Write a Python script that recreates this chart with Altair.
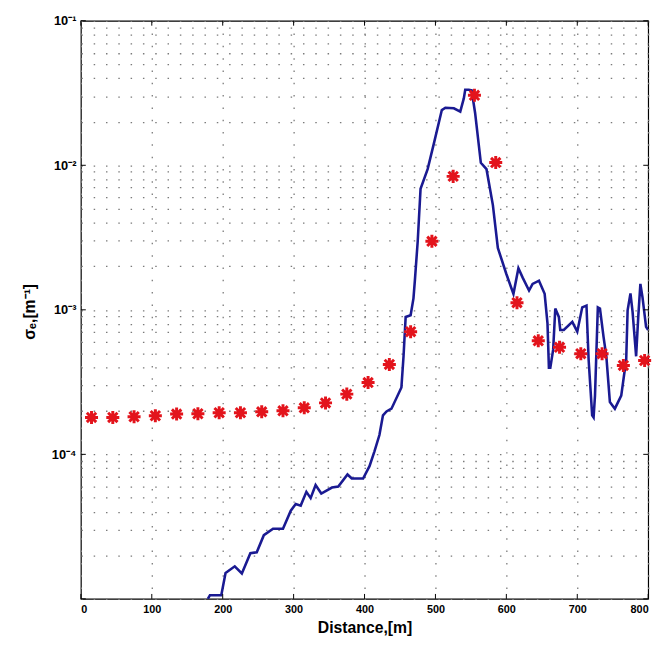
import altair as alt
import pandas as pd

# ---- data ----
line_x = [179, 182, 198, 204, 217, 227, 239, 248, 258, 271, 285, 296, 303, 310, 318, 324,
          331, 339, 354, 363, 376, 382, 398, 407, 414, 421, 426, 431, 438, 452, 455, 458,
          465, 469, 471, 475, 479, 489, 498, 509, 514, 526, 535, 540, 542, 547, 551, 556,
          564, 572, 581, 588, 600, 610, 617, 623, 632, 637, 646, 654, 658, 660, 662, 666,
          669, 674, 676, 681, 693, 700, 707, 713, 716, 721, 723, 725, 729, 732, 737, 741,
          746, 753, 762, 769, 771, 775, 778, 783, 786, 789, 792, 797, 800]
line_y = [1.0e-5, 1.06e-5, 1.06e-5, 1.51e-5, 1.68e-5, 1.50e-5, 2.07e-5, 2.10e-5, 2.76e-5, 3.06e-5,
          3.06e-5, 4.08e-5, 4.53e-5, 4.42e-5, 5.50e-5, 4.98e-5, 6.14e-5, 5.36e-5, 5.89e-5, 5.98e-5,
          7.26e-5, 6.81e-5, 6.81e-5, 8.28e-5, 1.05e-4, 1.36e-4, 1.86e-4, 1.98e-4, 2.07e-4, 2.90e-4,
          4.77e-4, 8.93e-4, 9.18e-4, 1.2e-3, 1.6e-3, 2.98e-3, 6.87e-3, 9.40e-3, 1.43e-2, 2.41e-2,
          2.50e-2, 2.48e-2, 2.35e-2, 2.90e-2, 3.33e-2, 3.33e-2, 3.30e-2, 2.29e-2, 1.04e-2, 9.40e-3,
          5.30e-3, 2.68e-3, 1.77e-3, 1.29e-3, 1.94e-3, 1.67e-3, 1.36e-3, 1.51e-3, 1.59e-3, 1.29e-3,
          8.05e-4, 3.97e-4, 3.97e-4, 5.30e-4, 1.02e-3, 8.93e-4, 7.25e-4, 7.25e-4, 8.26e-4, 7.06e-4,
          1.04e-3, 1.07e-3, 4.53e-4, 1.86e-4, 1.80e-4, 2.55e-4, 1.04e-3, 1.02e-3, 6.53e-4, 4.77e-4,
          2.30e-4, 2.07e-4, 2.55e-4, 4.53e-4, 9.93e-4, 1.30e-3, 9.67e-4, 4.77e-4, 8.93e-4, 1.51e-3,
          1.22e-3, 7.64e-4, 7.25e-4]

star_x = [15, 45, 75, 105, 135, 165, 195, 225, 255, 285, 315, 345, 375, 405, 435, 465, 495,
          525, 555, 585, 615, 645, 675, 705, 735, 765, 795]
star_y = [1.80e-4, 1.80e-4, 1.82e-4, 1.85e-4, 1.90e-4, 1.91e-4, 1.94e-4, 1.94e-4, 1.97e-4,
          2.00e-4, 2.10e-4, 2.27e-4, 2.61e-4, 3.14e-4, 4.19e-4, 7.06e-4, 2.98e-3, 8.38e-3,
          3.05e-2, 1.045e-2, 1.12e-3, 6.10e-4, 5.50e-4, 4.97e-4, 4.97e-4, 4.12e-4, 4.46e-4]

x_ticks = [0, 100, 200, 300, 400, 500, 600, 700, 800]
y_decades = [1e-5, 1e-4, 1e-3, 1e-2, 1e-1]
y_grid = [m * 10.0 ** k for k in range(-5, -1) for m in range(1, 10)] + [0.1]

W, H = 576, 587
FONT = "Liberation Sans"

line_df = pd.DataFrame({"x": line_x, "y": line_y})
star_df = pd.DataFrame({"x": star_x, "y": star_y})
ydec_df = pd.DataFrame({"y": y_decades})
xt_df = pd.DataFrame({"x": x_ticks})

xscale = alt.Scale(domain=[0, 800], nice=False, zero=False)
yscale = alt.Scale(type="log", domain=[1e-5, 0.1], nice=False)

label_expr = (
    "abs(log(datum.value)/LN10 + 1) < 0.01 ? '10⁻¹' : "
    "abs(log(datum.value)/LN10 + 2) < 0.01 ? '10⁻²' : "
    "abs(log(datum.value)/LN10 + 3) < 0.01 ? '10⁻³' : "
    "abs(log(datum.value)/LN10 + 4) < 0.01 ? '10⁻⁴' : ''"
)

x_axis = alt.Axis(values=x_ticks, grid=True, gridDash=[1.5, 11], gridColor="#7a7a7a",
                  gridWidth=1.3, ticks=False, domain=False, labelFont=FONT,
                  labelFontSize=11, labelFontWeight="bold", labelColor="black",
                  labelPadding=5, title="Distance,[m]", titleFont=FONT, titleFontSize=16,
                  titleFontWeight="bold", titleColor="black", titlePadding=5)
y_axis = alt.Axis(values=y_grid, grid=True, gridDash=[1.5, 11], gridColor="#7a7a7a",
                  gridWidth=1.3, ticks=False, domain=False, labelExpr=label_expr,
                  labelFont=FONT, labelFontSize=13, labelFontWeight="bold",
                  labelColor="black", labelPadding=5, labelBaseline="middle",
                  title="σₑ,[m⁻¹]", titleFont=FONT, titleFontSize=16,
                  titleFontWeight="bold", titleColor="black", titleX=-52, titleY=295,
                  titleAngle=270, titleAlign="center", titleBaseline="middle")

line = alt.Chart(line_df).mark_line(color="#1a1a92", strokeWidth=2.6, clip=True).encode(
    x=alt.X("x:Q", scale=xscale, axis=x_axis),
    y=alt.Y("y:Q", scale=yscale, axis=y_axis),
)

star_path = "M-1,0L1,0M0,-1L0,1M-0.72,-0.72L0.72,0.72M-0.72,0.72L0.72,-0.72"
stars = alt.Chart(star_df).mark_point(shape=star_path, filled=False, stroke="#e3141c",
                                      strokeWidth=3, size=175, opacity=1).encode(
    x=alt.X("x:Q", scale=xscale),
    y=alt.Y("y:Q", scale=yscale),
)

tick_l = alt.Chart(ydec_df).mark_rule(color="black", strokeWidth=1).encode(
    y=alt.Y("y:Q", scale=yscale), x=alt.value(0), x2=alt.value(5))
tick_r = alt.Chart(ydec_df).mark_rule(color="black", strokeWidth=1).encode(
    y=alt.Y("y:Q", scale=yscale), x=alt.value(W - 5), x2=alt.value(W))
tick_b = alt.Chart(xt_df).mark_rule(color="black", strokeWidth=1).encode(
    x=alt.X("x:Q", scale=xscale), y=alt.value(H - 5), y2=alt.value(H))
tick_t = alt.Chart(xt_df).mark_rule(color="black", strokeWidth=1).encode(
    x=alt.X("x:Q", scale=xscale), y=alt.value(0), y2=alt.value(5))

chart = alt.layer(line, stars, tick_l, tick_r, tick_b, tick_t).properties(
    width=W, height=H,
    autosize=alt.AutoSizeParams(type="none"),
    padding={"left": 74, "top": 8, "right": 12, "bottom": 50},
    background="white",
).configure_view(stroke="black", strokeWidth=1.2)

chart.save("out.html", embed_options={"renderer": "svg", "actions": False})
